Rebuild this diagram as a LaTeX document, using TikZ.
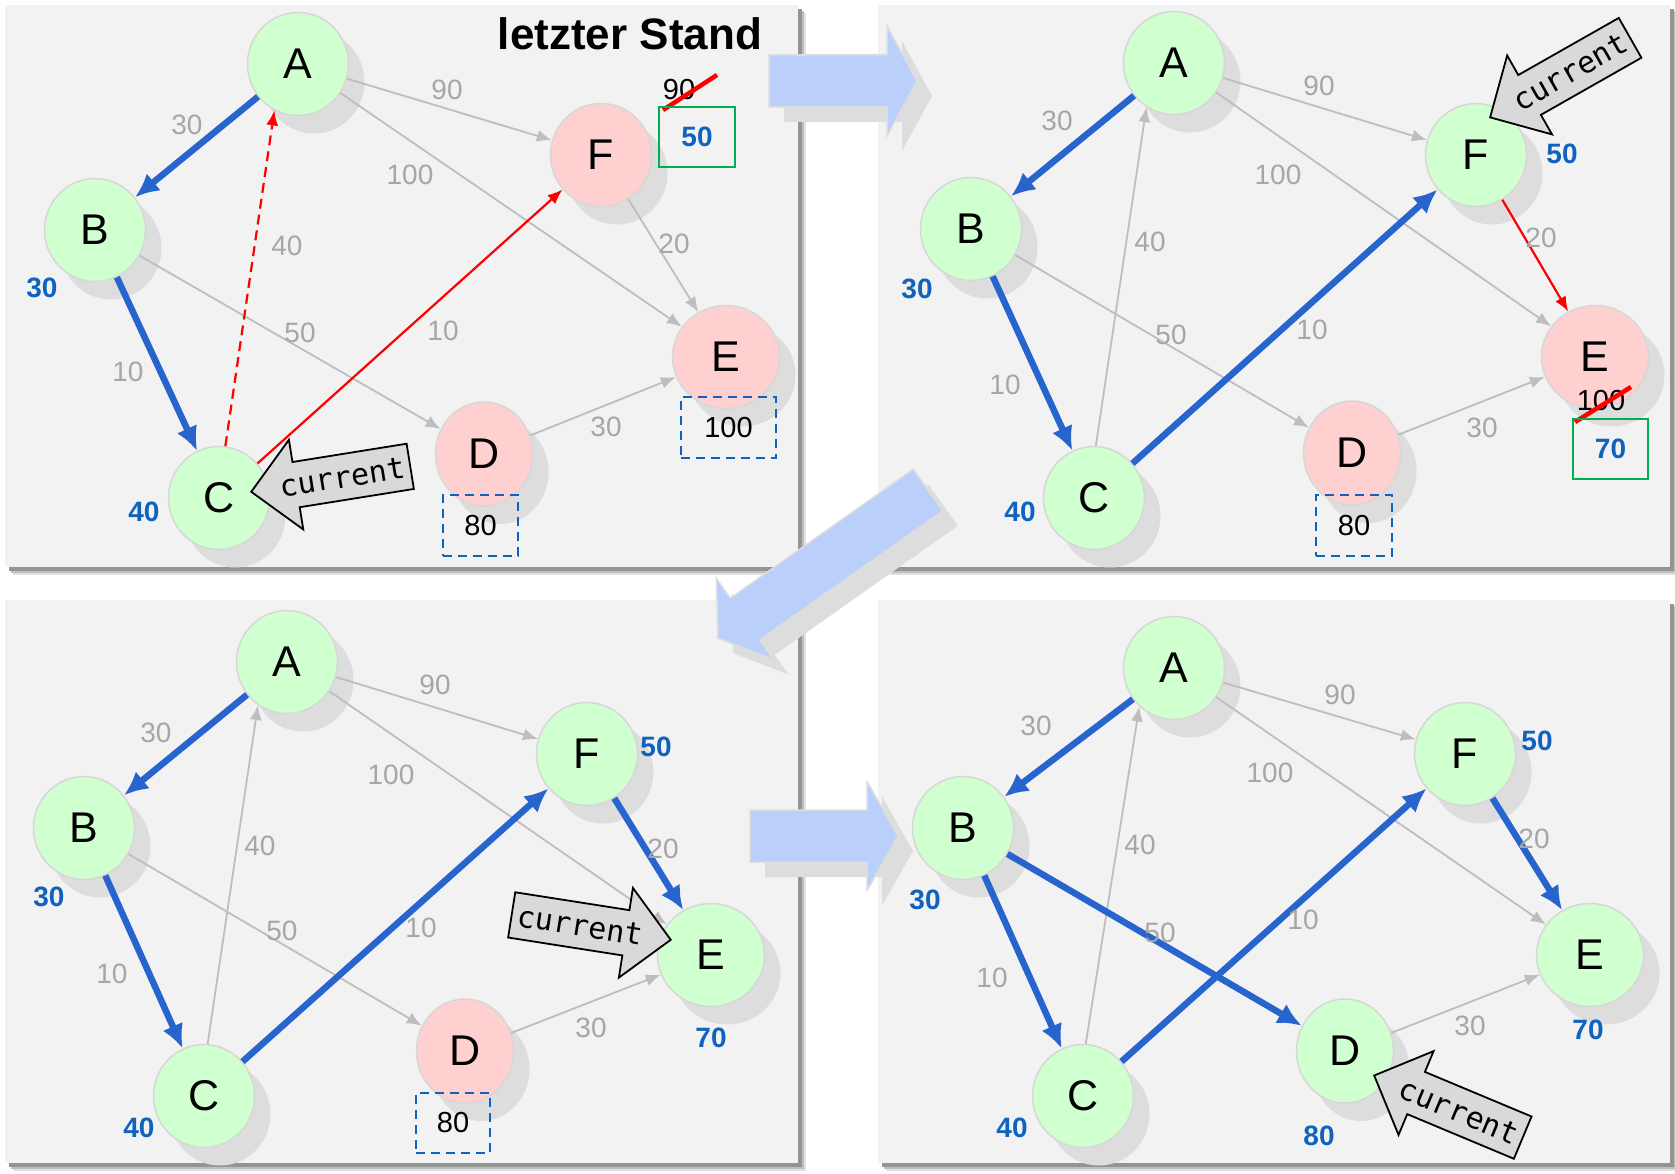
\documentclass[tikz,border=0pt]{standalone}
\usepackage{fontspec}
\setmainfont{Liberation Sans}
\newfontfamily\curfont{DejaVu Sans Mono}
\usetikzlibrary{arrows.meta,shapes.geometric,shapes.arrows,shadows}
\definecolor{panelbg}{RGB}{242,242,242}
\definecolor{nodegreen}{RGB}{208,255,208}
\definecolor{nodered}{RGB}{255,208,208}
\definecolor{nodeborder}{RGB}{215,215,215}
\definecolor{shadowgray}{RGB}{221,221,221}
\definecolor{edgegray}{RGB}{190,190,190}
\definecolor{labelgray}{RGB}{166,166,166}
\definecolor{pathblue}{RGB}{40,100,205}
\definecolor{distblue}{RGB}{15,98,190}
\definecolor{boxgreen}{RGB}{0,176,80}
\definecolor{bigblue}{RGB}{186,208,251}
\definecolor{curgray}{RGB}{217,217,217}
\tikzset{
  vtx/.style={ellipse, draw=nodeborder, line width=1.5pt, minimum width=101pt, minimum height=103pt, inner sep=0pt,
    font=\fontsize{43}{43}\selectfont,
    drop shadow={shadow xshift=16pt, shadow yshift=-18pt, fill=shadowgray, opacity=1}},
  vg/.style={vtx, fill=nodegreen},
  vr/.style={vtx, fill=nodered},
  widev/.style={minimum width=107pt},
  narrowv/.style={minimum width=97pt, minimum height=104pt},
  gedge/.style={draw=edgegray, line width=1.8pt, -{Latex[length=15pt,width=12pt]}},
  bedge/.style={draw=pathblue, line width=6.5pt, -{Latex[length=24pt,width=22pt]}},
  redge/.style={draw=red, line width=2.2pt, -{Latex[length=15pt,width=12pt]}},
  rdash/.style={redge, dash pattern=on 10pt off 6pt},
  glabel/.style={text=labelgray, font=\fontsize{28}{28}\selectfont, inner sep=0pt},
  dlabel/.style={text=distblue, font=\bfseries\fontsize{28}{28}\selectfont, inner sep=0pt},
  nlabel/.style={text=black, font=\fontsize{29}{29}\selectfont, inner sep=0pt},
  dbox/.style={nlabel, draw=distblue, line width=2pt, dash pattern=on 9pt off 6pt},
  gbox/.style={dlabel, draw=boxgreen, line width=2pt},
  strike/.style={draw=red, line width=4.5pt},
  curarrow/.style={single arrow, draw=black, line width=1.8pt, fill=curgray,
    font=\curfont\fontsize{30}{30}\selectfont, text height=21pt, text depth=0pt,
    inner xsep=3pt, inner ysep=11.5pt, single arrow head extend=22.5pt, minimum height=161pt},
  title/.style={font=\bfseries\fontsize{44}{44}\selectfont, inner sep=0pt}
}
\newcommand\drawpanel[4]{%
  \fill[black!12] (#1+8,#2+8) rectangle (#3+8,#4+8);
  \fill[black!25] (#1+6,#2+6) rectangle (#3+6,#4+6);
  \fill[black!42] (#1+4,#2+4) rectangle (#3+4,#4+4);
  \fill[panelbg] (#1,#2) rectangle (#3,#4);
}
\newcommand\bigarrowshape[7]{%
  \begin{scope}[shift={(#1+15,#2+15)}, rotate=#3]
    \fill[shadowgray] (0,-#5) -- (#4-#7,-#5) -- (#4-#7,-#6) -- (#4,0) -- (#4-#7,#6) -- (#4-#7,#5) -- (0,#5) -- cycle;
  \end{scope}
  \begin{scope}[shift={(#1,#2)}, rotate=#3]
    \filldraw[fill=bigblue, draw=shadowgray, line width=1.5pt] (0,-#5) -- (#4-#7,-#5) -- (#4-#7,-#6) -- (#4,0) -- (#4-#7,#6) -- (#4-#7,#5) -- (0,#5) -- cycle;
  \end{scope}
}
\begin{document}
\begin{tikzpicture}[x=1pt,y=-1pt]
\useasboundingbox (0,0) rectangle (1675,1174);
\fill[white] (0,0) rectangle (1675,1174);
% panels
\drawpanel{5}{5}{798}{567}
\drawpanel{878}{5}{1670}{567}
\drawpanel{5}{600}{798}{1163}
\drawpanel{878}{600}{1670}{1163}

% ---------------- panel 1 ----------------
\node[vg] (a1) at (298,64) {A};
\node[vg] (b1) at (95,230) {B};
\node[vg] (c1) at (219,498) {C};
\node[vr, narrowv] (d1) at (484,454) {D};
\node[vr, widev] (e1) at (726,357) {E};
\node[vr] (f1) at (601,155) {F};
\draw[gedge] (a1) -- (f1);
\draw[gedge] (a1) -- (e1);
\draw[gedge] (f1) -- (e1);
\draw[gedge] (b1) -- (d1);
\draw[gedge] (d1) -- (e1);
\draw[bedge] (a1) -- (b1);
\draw[bedge] (b1) -- (c1);
\draw[rdash] (c1.83) -- (a1.243);
\draw[redge] (c1) -- (f1);
\node[glabel] at (187,125) {30};
\node[glabel] at (128,372) {10};
\node[glabel] at (287,246) {40};
\node[glabel] at (443,331) {10};
\node[glabel] at (447,90) {90};
\node[glabel] at (410,175) {100};
\node[glabel] at (674,244) {20};
\node[glabel] at (300,333) {50};
\node[glabel] at (606,427) {30};
\node[dlabel] at (42,288) {30};
\node[dlabel] at (144,512) {40};
\node[title] at (630,34) {letzter Stand};
\node[nlabel] (old1) at (679,90) {90};
\draw[strike] (663,110) -- (717,75);
\node[gbox, minimum width=76pt, minimum height=60pt] (new1) at (697,137) {50};
\node[dbox, minimum width=95pt, minimum height=61pt] (eb1) at (728.5,427.5) {100};
\node[dbox, minimum width=75pt, minimum height=61pt] (db1) at (480.5,525.5) {80};

% ---------------- panel 2 ----------------
\node[vg] (a2) at (1174,63) {A};
\node[vg] (b2) at (971,229) {B};
\node[vg] (c2) at (1094,498) {C};
\node[vr, narrowv] (d2) at (1352,453) {D};
\node[vr, widev] (e2) at (1595,357) {E};
\node[vg] (f2) at (1476,155) {F};
\draw[gedge] (c2.88) -- (a2.238);
\draw[gedge] (a2) -- (f2);
\draw[gedge] (a2) -- (e2);
\draw[gedge] (b2) -- (d2);
\draw[gedge] (d2) -- (e2);
\draw[redge] (f2) -- (e2);
\draw[bedge] (a2) -- (b2);
\draw[bedge] (b2) -- (c2);
\draw[bedge] (c2) -- (f2);
\node[glabel] at (1057,121) {30};
\node[glabel] at (1005,385) {10};
\node[glabel] at (1150,242) {40};
\node[glabel] at (1312,330) {10};
\node[glabel] at (1319,86) {90};
\node[glabel] at (1278,175) {100};
\node[glabel] at (1541,238) {20};
\node[glabel] at (1171,335) {50};
\node[glabel] at (1482,428) {30};
\node[dlabel] at (917,289) {30};
\node[dlabel] at (1020,512) {40};
\node[dlabel] at (1562,154) {50};
\node[nlabel] (old2) at (1601,401) {100};
\draw[strike] (1575,422) -- (1631,387);
\node[gbox, minimum width=75pt, minimum height=60pt] (new2) at (1610.5,449) {70};
\node[dbox, minimum width=76pt, minimum height=61pt] (db2) at (1354,525.5) {80};

% ---------------- panel 3 ----------------
\node[vg] (a3) at (287,662) {A};
\node[vg] (b3) at (84,828) {B};
\node[vg] (c3) at (204,1096) {C};
\node[vr, narrowv] (d3) at (465,1051) {D};
\node[vg, widev] (e3) at (711,955) {E};
\node[vg] (f3) at (587,754) {F};
\draw[gedge] (c3.86) -- (a3.236);
\draw[gedge] (a3) -- (f3);
\draw[gedge] (a3) -- (e3);
\draw[gedge] (b3) -- (d3);
\draw[gedge] (d3) -- (e3);
\draw[bedge] (a3) -- (b3);
\draw[bedge] (b3) -- (c3);
\draw[bedge] (c3) -- (f3);
\draw[bedge] (f3) -- (e3);
\node[glabel] at (156,733) {30};
\node[glabel] at (112,974) {10};
\node[glabel] at (260,846) {40};
\node[glabel] at (421,928) {10};
\node[glabel] at (435,685) {90};
\node[glabel] at (391,775) {100};
\node[glabel] at (663,849) {20};
\node[glabel] at (282,931) {50};
\node[glabel] at (591,1028) {30};
\node[dlabel] at (49,897) {30};
\node[dlabel] at (139,1128) {40};
\node[dlabel] at (656,747) {50};
\node[dlabel] at (711,1038) {70};
\node[dbox, minimum width=74pt, minimum height=60pt] (db3) at (453,1123) {80};

% ---------------- panel 4 ----------------
\node[vg] (a4) at (1174,668) {A};
\node[vg] (b4) at (963,828) {B};
\node[vg] (c4) at (1083,1096) {C};
\node[vg, narrowv] (d4) at (1345,1051) {D};
\node[vg, widev] (e4) at (1590,955) {E};
\node[vg] (f4) at (1465,754) {F};
\draw[gedge] (c4.87) -- (a4.228);
\draw[gedge] (a4) -- (f4);
\draw[gedge] (a4) -- (e4);
\draw[gedge] (d4) -- (e4);
\draw[bedge] (a4) -- (b4);
\draw[bedge] (b4) -- (c4);
\draw[bedge] (c4) -- (f4);
\draw[bedge] (f4) -- (e4);
\draw[bedge] (b4) -- (d4);
\node[glabel] at (1036,726) {30};
\node[glabel] at (992,978) {10};
\node[glabel] at (1140,845) {40};
\node[glabel] at (1303,920) {10};
\node[glabel] at (1340,695) {90};
\node[glabel] at (1270,773) {100};
\node[glabel] at (1534,839) {20};
\node[glabel] at (1160,933) {50};
\node[glabel] at (1470,1026) {30};
\node[dlabel] at (925,900) {30};
\node[dlabel] at (1012,1128) {40};
\node[dlabel] at (1537,741) {50};
\node[dlabel] at (1588,1030) {70};
\node[dlabel] at (1319,1136) {80};

% ---------------- transition arrows ----------------
\bigarrowshape{769}{81}{0}{148}{26}{55}{30}
\bigarrowshape{928}{490}{215.2}{257}{25.5}{49.5}{33}
\bigarrowshape{750}{836}{0}{148}{26}{54.5}{31}

% ---------------- current pointers ----------------
\node[curarrow, shape border rotate=180, rotate=9.1, anchor=tip] (cur1) at (250,492) {current};
\node[curarrow, shape border rotate=180, rotate=29.6, anchor=tip] (cur2) at (1489,118) {current};
\node[curarrow, rotate=-8.9, anchor=tip] (cur3) at (672,940) {current};
\node[curarrow, shape border rotate=180, rotate=-22.7, anchor=tip] (cur4) at (1373,1075) {current};
\end{tikzpicture}
\end{document}
